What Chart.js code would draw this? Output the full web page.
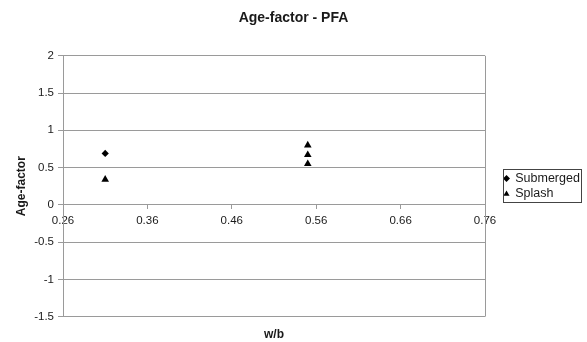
<!DOCTYPE html>
<html><head><meta charset="utf-8">
<script src="https://cdn.jsdelivr.net/npm/chart.js@4/dist/chart.umd.min.js"></script>
<style>html,body{margin:0;padding:0;background:#fff;}#wrap{width:587px;height:342px;}</style>
</head><body><div id="wrap"><canvas id="c" width="587" height="342"></canvas></div>
<script>
const chartTitle = 'Age-factor - PFA';
const xAxisTitle = 'w/b';
const yAxisTitle = 'Age-factor';
const seriesNames = ['Submerged', 'Splash'];
const submergedX = [0.31];
const submergedY = [0.69];
const splashX = [0.31, 0.55, 0.55, 0.55];
const splashY = [0.34, 0.80, 0.67, 0.55];
const xTickValues = [0.26, 0.36, 0.46, 0.56, 0.66, 0.76];
const xTickLabels = ['0.26', '0.36', '0.46', '0.56', '0.66', '0.76'];
const yTickValues = [-1.5, -1, -0.5, 0, 0.5, 1, 1.5, 2];
const yTickLabels = ['-1.5', '-1', '-0.5', '0', '0.5', '1', '1.5', '2'];

const FONT = 'Arial, "Liberation Sans", sans-serif';
const GRID = '#9a9a9a';
const TEXT = '#1a1a1a';

const framePlugin = {
  id: 'frame',
  afterDraw(chart) {
    const ctx = chart.ctx, a = chart.chartArea;
    ctx.save();
    ctx.strokeStyle = GRID; ctx.lineWidth = 1;
    ctx.beginPath();
    ctx.moveTo(Math.round(a.right) + 0.5, a.top);
    ctx.lineTo(Math.round(a.right) + 0.5, a.bottom);
    ctx.stroke();
    const boxes = chart.legend && chart.legend.legendHitBoxes;
    if (boxes && boxes.length) {
      let l = Infinity, t = Infinity, r = -Infinity, b = -Infinity;
      boxes.forEach(h => { l = Math.min(l, h.left); t = Math.min(t, h.top); r = Math.max(r, h.left + h.width); b = Math.max(b, h.top + h.height); });
      ctx.strokeStyle = '#444';
      ctx.strokeRect(Math.round(l - 1) + 0.5, Math.round(t - 3) + 0.5, Math.round(r - l + 2), Math.round(b - t + 5));
    }
    ctx.restore();
  }
};

new Chart(document.getElementById('c'), {
  type: 'scatter',
  data: {
    datasets: [
      {
        label: seriesNames[0],
        data: submergedX.map((x, i) => ({ x, y: submergedY[i] })),
        pointStyle: 'rectRot', radius: 3.6, backgroundColor: '#000', borderColor: '#000', borderWidth: 0
      },
      {
        label: seriesNames[1],
        data: splashX.map((x, i) => ({ x, y: splashY[i] })),
        pointStyle: 'triangle', radius: 4.4, backgroundColor: '#000', borderColor: '#000', borderWidth: 0
      }
    ]
  },
  options: {
    responsive: false,
    animation: false,
    layout: { padding: { left: 0, right: 0, top: 0, bottom: 0 } },
    plugins: {
      title: {
        display: true, text: chartTitle, color: TEXT,
        font: { family: FONT, size: 14, weight: 'bold' },
        padding: { top: 10, bottom: 29 }
      },
      subtitle: {
        display: true, text: xAxisTitle, position: 'bottom', fullSize: false, color: TEXT,
        font: { family: FONT, size: 12, weight: 'bold' },
        padding: { top: 11, bottom: 0 }
      },
      legend: {
        position: 'right',
        fullSize: false,
        maxWidth: 86,
        labels: {
          usePointStyle: true, boxWidth: 5, boxHeight: 5, padding: 3, color: TEXT,
          font: { family: FONT, size: 12.5, lineHeight: 1 }
        }
      },
      tooltip: { enabled: false }
    },
    scales: {
      x: {
        type: 'linear',
        position: { y: 0 },
        min: 0.26, max: 0.76,
        afterBuildTicks: s => { s.ticks = xTickValues.map(v => ({ value: v })); },
        ticks: { color: TEXT, font: { family: FONT, size: 11.5 }, padding: 5, maxRotation: 0, autoSkip: false,
          callback: (v, i) => xTickLabels[i] },
        grid: { drawOnChartArea: false, color: GRID, tickLength: 4 },
        border: { color: GRID }
      },
      y: {
        type: 'linear',
        min: -1.5, max: 2,
        afterBuildTicks: s => { s.ticks = yTickValues.map(v => ({ value: v })); },
        afterFit: s => { s.width = 63; },
        ticks: { color: TEXT, font: { family: FONT, size: 11.5 }, padding: 4, autoSkip: false,
          callback: (v, i) => yTickLabels[i] },
        grid: { color: GRID, tickLength: 5 },
        border: { color: GRID },
        title: { display: true, text: yAxisTitle, color: TEXT, font: { family: FONT, size: 12, weight: 'bold' }, padding: { top: 14, bottom: 0 } }
      },
      yR: {
        type: 'linear',
        position: 'right',
        display: true,
        afterFit: s => { s.width = 16; },
        ticks: { display: false },
        grid: { display: false },
        border: { display: false }
      }
    }
  },
  plugins: [framePlugin]
});
</script>
</body></html>
